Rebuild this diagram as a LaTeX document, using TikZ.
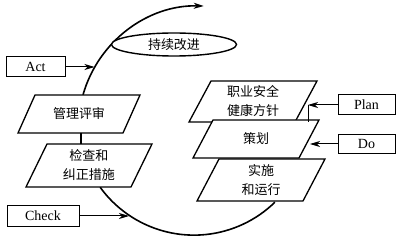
\documentclass[tikz,border=0pt]{standalone}
\usepackage{fontspec}
\setmainfont{Liberation Serif}
\newfontfamily\cjk{Noto Sans CJK SC}
\usetikzlibrary{arrows.meta,shapes.geometric}
\tikzset{
  pbox/.style={draw=black,fill=white,line width=1.3pt,line join=miter},
  ptext/.style={font=\cjk\fontsize{13}{19}\selectfont,align=center,inner sep=0pt},
  lbox/.style={draw=black,line width=1pt,inner sep=0pt,font=\fontsize{14}{16}\selectfont},
  cyc/.style={line width=1.6pt},
  arr/.style={line width=1pt,-{Stealth[length=10pt,width=6pt,inset=3pt]}},
}
\newcommand{\pgram}[7]{%
  \draw[pbox] ({#2-#4/2},{#3-#5/2}) -- ++({#4-#6},0) -- ++(#6,#5) -- ++({-(#4-#6)},0) -- cycle;
  \node[ptext] (#1) at (#2,#3) {#7};
}
\begin{document}
\begin{tikzpicture}[x=1pt,y=1pt]
\useasboundingbox (0,0) rectangle (400,244);

% cycle arcs
\coordinate (mrtop) at (83,149.1);
\coordinate (jcbot) at (100.1,56.8);
\draw[cyc,-{Stealth[length=10pt,width=6pt,inset=3pt]}] (mrtop) arc[start angle=164.2,end angle=88.5,radius=122.2];
\draw[cyc] (jcbot) arc[start angle=215.9,end angle=314.3,radius=115.9];

% ellipse
\node[draw,line width=1.4pt,fill=white,ellipse,minimum width=125pt,minimum height=23pt,inner sep=0pt,
      font=\cjk\fontsize{13}{15}\selectfont] (ci) at (174,199.5) {持续改进};

% left boxes
\pgram{mr}{79}{130}{122}{38}{17}{管理评审}
\pgram{jc}{89}{78.5}{126}{43}{21}{检查和\\纠正措施}
\coordinate (mrbot) at (81,111);
\coordinate (jctop) at (81,100);
\draw[line width=1.3pt] (mrbot) -- (jctop);

% right boxes
\pgram{zy}{253}{142.5}{128}{41}{22}{职业安全\\健康方针}
\pgram{ch}{256}{105}{126}{38}{20}{策划}
\pgram{ss}{261}{64}{128}{42}{22}{实施\\和运行}

% label boxes
\node[lbox,minimum width=59pt,minimum height=20pt] (act) at (35.5,177) {Act};
\node[lbox,minimum width=72pt,minimum height=21pt] (chk) at (43,28) {Check};
\node[lbox,minimum width=57pt,minimum height=20pt] (plan) at (366.5,139) {Plan};
\node[lbox,minimum width=57pt,minimum height=19pt] (do) at (366.5,100) {Do};

\coordinate (acttip) at (94.5,177);
\coordinate (chktip) at (129,28);
\coordinate (plantip) at (308,139);
\coordinate (planfoot) at (308,122);
\coordinate (dotip) at (310,100);
\draw[arr] (act.east) -- (acttip);
\draw[arr] (chk.east) -- (chktip);
\draw[arr] (plan.west) -- (plantip);
\draw[line width=1pt] (plantip) -- (planfoot);
\draw[arr] (do.west) -- (dotip);
\end{tikzpicture}
\end{document}
